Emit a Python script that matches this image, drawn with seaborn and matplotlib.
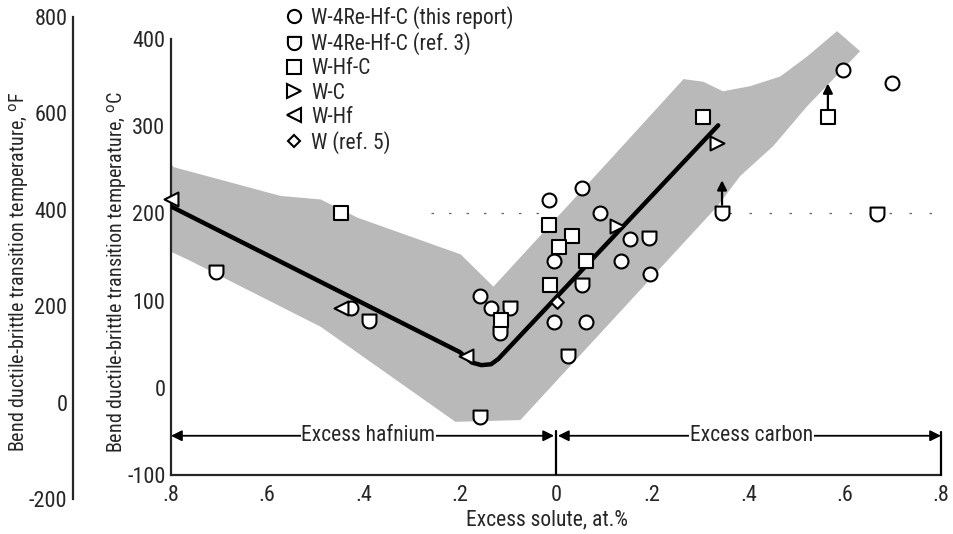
import numpy as np
import pandas as pd
import matplotlib
matplotlib.use("Agg")
import matplotlib.pyplot as plt
import matplotlib.font_manager as fm
from matplotlib.path import Path
from matplotlib.lines import Line2D
import seaborn as sns

# ---------------- data ----------------
circ_x = [-0.426, -0.157, -0.136, 0.055, -0.015, 0.092, 0.153, -0.005, 0.136, 0.196, -0.005, 0.063, 0.597, 0.698]
circ_y = [92, 105, 92, 229, 215, 201, 171, 145, 145, 131, 76, 76, 364, 350]

shield_x = [-0.706, -0.389, -0.096, -0.117, -0.157, 0.024, 0.194, 0.055, 0.345, 0.667]
shield_y = [133, 77, 92, 63, -34, 36, 172, 118, 201, 199]

sq_x = [-0.447, -0.115, -0.015, 0.034, 0.006, 0.063, -0.013, 0.306, 0.565]
sq_y = [201, 78, 187, 174, 161, 145, 118, 311, 310]

rtri_x = [0.127, 0.335]
rtri_y = [186, 281]

ltri_x = [-0.80, -0.447, -0.186]
ltri_y = [217, 92, 37]

dia_x = [0.003]
dia_y = [98]

# trend line
line_x = [-0.80, -0.20, -0.175, -0.155, -0.135, -0.12, 0.337]
line_y = [208, 41, 29, 26, 27, 33, 301]

# scatter band outline
band_x = [-0.80, -0.794, -0.572, -0.489, -0.412, -0.198, -0.130, 0.113, 0.265, 0.306, 0.347,
          0.404, 0.466, 0.522, 0.584, 0.632, 0.522, 0.451, 0.383, 0.335, -0.074, -0.209,
          -0.489, -0.765, -0.80]
band_y = [256, 253, 220, 216, 195, 153, 116, 262, 354, 351, 340,
          346, 357, 380, 409, 386, 323, 277, 243, 208, -37, -39,
          70, 147, 156]

# lower bound arrows (x, from, to)
arrow_x = [0.345, 0.565]
arrow_from = [210, 319]
arrow_to = [238, 349]

series_labels = ["W-4Re-Hf-C (this report)", "W-4Re-Hf-C (ref. 3)", "W-Hf-C",
                 "W-C", "W-Hf", "W (ref. 5)"]

yC_ticks = [-100, 0, 100, 200, 300, 400]
yF_ticks = [-200, 0, 200, 400, 600, 800]
x_ticks = [-0.8, -0.6, -0.4, -0.2, 0, 0.2, 0.4, 0.6, 0.8]
x_ticklabels = [".8", ".6", ".4", ".2", "0", ".2", ".4", ".6", ".8"]

# ---------------- style ----------------
sns.set_style("white")

entries = [(f.name, str(f.stretch)) for f in fm.fontManager.ttflist]
names = {n for n, s in entries}
fam, stretch, narrow = "Liberation Sans", "normal", False
for cand in ["Roboto Condensed", "Liberation Sans Narrow", "Arial Narrow",
             "Open Sans Condensed", "Noto Sans Condensed"]:
    if cand in names:
        fam, narrow = cand, True
        break
else:
    for base in ["Roboto", "Noto Sans", "Open Sans", "DejaVu Sans"]:
        if any(n == base and ("condensed" in s or "narrow" in s) for n, s in entries):
            fam, stretch, narrow = base, "condensed", True
            break
    else:
        if "Liberation Sans" not in names:
            fam = "DejaVu Sans"

plt.rcParams["font.family"] = [fam, "DejaVu Sans"]
plt.rcParams["font.stretch"] = stretch
plt.rcParams["axes.linewidth"] = 1.6

FS_TICK = 16 if narrow else 13
FS_LAB = 15.5 if narrow else 12.5
FS_YLAB = 14.5 if narrow else 11.8
FS_LEG = 15.5 if narrow else 12.5

# shield marker: flat top, rounded bottom
t = np.linspace(0, -np.pi, 25)
verts = [(-1, 1), (1, 1), (1, 0)] + list(zip(np.cos(t), np.sin(t))) + [(-1, 1)]
codes = [Path.MOVETO] + [Path.LINETO] * (len(verts) - 2) + [Path.CLOSEPOLY]
shield = Path(verts, codes)

markers = {series_labels[0]: "o", series_labels[1]: shield, series_labels[2]: "s",
           series_labels[3]: ">", series_labels[4]: "<", series_labels[5]: "D"}
msizes = {series_labels[0]: 10, series_labels[1]: 10, series_labels[2]: 10,
          series_labels[3]: 10, series_labels[4]: 10, series_labels[5]: 6.5}

df = pd.concat([
    pd.DataFrame({"x": circ_x, "y": circ_y, "s": series_labels[0]}),
    pd.DataFrame({"x": shield_x, "y": shield_y, "s": series_labels[1]}),
    pd.DataFrame({"x": sq_x, "y": sq_y, "s": series_labels[2]}),
    pd.DataFrame({"x": rtri_x, "y": rtri_y, "s": series_labels[3]}),
    pd.DataFrame({"x": ltri_x, "y": ltri_y, "s": series_labels[4]}),
    pd.DataFrame({"x": dia_x, "y": dia_y, "s": series_labels[5]}),
], ignore_index=True)

fig = plt.figure(figsize=(9.54, 5.34), dpi=100)
W, H = 954, 534
ax = fig.add_axes([171 / W, 1 - 475 / H, (941 - 171) / W, (475 - 39) / H])

# band
ax.fill(band_x, band_y, facecolor="#b9b9b9", edgecolor="none", zorder=1, clip_on=False)

# faint dotted artifact line near 200 C
ax.plot([-0.26, -0.03], [200, 200], color="#666666", lw=0.9, dashes=(2, 12), zorder=1.5)
ax.plot([0.36, 0.8], [200, 200], color="#666666", lw=0.9, dashes=(2, 14), zorder=1.5)

# trend line
sns.lineplot(x=line_x, y=line_y, sort=False, color="black", lw=3.2, ax=ax, zorder=3)

# points
for lab in series_labels:
    sub = df[df["s"] == lab]
    sns.scatterplot(data=sub, x="x", y="y", marker=markers[lab], s=msizes[lab] ** 2,
                    color="white", edgecolor="black", linewidth=1.5, ax=ax,
                    zorder=4, clip_on=False, legend=False)

# lower-bound arrows
for xa, y0, y1 in zip(arrow_x, arrow_from, arrow_to):
    ax.annotate("", xy=(xa, y1), xytext=(xa, y0),
                arrowprops=dict(arrowstyle="-|>", color="black", lw=1.6,
                                mutation_scale=14, shrinkA=0, shrinkB=0), zorder=5)

# excess region arrows
ya = -55
ap = dict(arrowstyle="-|>", color="black", lw=1.3, mutation_scale=16, shrinkA=0, shrinkB=0)
ax.annotate("", xy=(-0.8, ya), xytext=(-0.4, ya), arrowprops=ap, annotation_clip=False)
ax.annotate("", xy=(-0.004, ya), xytext=(-0.4, ya), arrowprops=ap)
ax.annotate("", xy=(0.004, ya), xytext=(0.4, ya), arrowprops=ap)
ax.annotate("", xy=(0.8, ya), xytext=(0.4, ya), arrowprops=ap)
ax.plot([0, 0], [-100, -50], color="black", lw=1.6, zorder=5)
ax.plot([0.8, 0.8], [-100, -51], color="black", lw=1.6, zorder=5, clip_on=False)
bb = dict(facecolor="white", edgecolor="none", pad=0.5)
ax.text(-0.39, ya, "Excess hafnium", ha="center", va="center", fontsize=FS_LAB, bbox=bb, zorder=6)
ax.text(0.406, ya, "Excess carbon", ha="center", va="center", fontsize=FS_LAB, bbox=bb, zorder=6)

# axes formatting
ax.set_xlim(-0.8, 0.8)
ax.set_ylim(-100, 400)
ax.set_xticks(x_ticks)
ax.set_xticklabels(x_ticklabels)
ax.set_yticks(yC_ticks)
ax.set_yticklabels([str(v) for v in yC_ticks])
ax.tick_params(axis="y", direction="in", length=17, width=1.6, labelsize=FS_TICK, pad=4)
ax.tick_params(axis="x", direction="in", length=14, width=1.6, labelsize=FS_TICK, pad=7)
for sp in ["top", "right"]:
    ax.spines[sp].set_visible(False)
ax.set_xlabel("Excess solute, at.%", fontsize=FS_LAB)
ax.set_ylabel(r"Bend ductile-brittle transition temperature, $^{\mathrm{o}}$C", fontsize=FS_YLAB)
ax.yaxis.set_label_coords(129 / W, 1 - 272 / H, transform=fig.transFigure)
ax.xaxis.set_label_coords(547 / W, 1 - 509 / H, transform=fig.transFigure)

# Fahrenheit axis
axf = fig.add_axes([73 / W, 1 - 499 / H, 0.0005, (499 - 17) / H])
axf.set_ylim(-200, 800)
axf.set_yticks(yF_ticks)
axf.set_yticklabels([str(v) for v in yF_ticks])
axf.tick_params(axis="y", direction="in", length=17, width=1.6, labelsize=FS_TICK, pad=4)
axf.set_xticks([])
for sp in ["top", "right", "bottom"]:
    axf.spines[sp].set_visible(False)
axf.patch.set_visible(False)
axf.set_ylabel(r"Bend ductile-brittle transition temperature, $^{\mathrm{o}}$F", fontsize=FS_YLAB)
axf.yaxis.set_label_coords(31 / W, 1 - 272 / H, transform=fig.transFigure)

# legend
handles = [Line2D([], [], linestyle="none", marker=markers[l], markersize=msizes[l] * 0.95,
                  markerfacecolor="white", markeredgecolor="black", markeredgewidth=1.5)
           for l in series_labels]
fig.legend(handles, series_labels, loc="upper left", bbox_to_anchor=(283 / W, 1 - 6 / H),
           frameon=False, borderpad=0, borderaxespad=0, handlelength=1.0,
           handletextpad=0.3, labelspacing=0.15, fontsize=FS_LEG)

fig.savefig("out.png", dpi=100)
